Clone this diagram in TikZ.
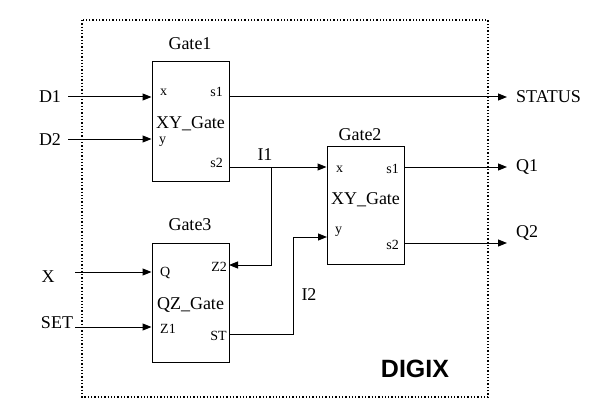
\documentclass[tikz,border=0pt]{standalone}
\usepackage{fontspec}
\setmainfont{Liberation Serif}
\newfontfamily\chipfont{Liberation Sans}
\usepackage{tikz}
\usetikzlibrary{arrows.meta}
\tikzset{gate/.style={draw,line width=1pt,minimum width=77pt,minimum height=119pt,inner sep=0pt},
    gatename/.style={font=\fontsize{18}{18}\selectfont,inner sep=0pt},
    port/.style={font=\fontsize{14}{14}\selectfont,inner sep=0pt},
    signame/.style={font=\fontsize{18}{18}\selectfont,inner sep=0pt},
    chipname/.style={font=\chipfont\bfseries\fontsize{25}{25}\selectfont,inner sep=0pt},
    wire/.style={draw,line width=1pt},
    sig/.style={wire,-{Triangle[length=9pt,width=7pt]}},
    frame/.style={draw,line width=1.3pt,dotted}}

\begin{document}
\begin{tikzpicture}[x=1pt,y=-1pt]
    \useasboundingbox (0,0) rectangle (603,420);
    % outer block
    \draw[frame] (82,20) rectangle (488,397);
    \node[chipname] (digix) at (415,369) {DIGIX};
    % the three gates
    \node[gate] (g1) at (190.5,121.5) {};
    \node[gate,minimum height=118pt] (g2) at (365.5,205) {};
    \node[gate] (g3) at (190.5,302.5) {};
    \node[gatename] (g1name) at (190,44) {Gate1};
    \node[gatename] (g2name) at (360,135) {Gate2};
    \node[gatename] (g3name) at (190,225) {Gate3};
    \node[gatename] (g1type) at (190.5,124) {XY\_Gate};
    \node[gatename] (g2type) at (365.5,200) {XY\_Gate};
    \node[gatename] (g3type) at (190.5,305) {QZ\_Gate};
    % ports
    \node[port,anchor=west] (g1x) at (160,92) {x};
    \node[port,anchor=east] (g1s1) at (223,92) {s1};
    \node[port,anchor=west] (g1y) at (159,142) {y};
    \node[port,anchor=east] (g1s2) at (223,163) {s2};
    \node[port,anchor=west] (g2x) at (336,169) {x};
    \node[port,anchor=east] (g2s1) at (399,169) {s1};
    \node[port,anchor=west] (g2y) at (335,232) {y};
    \node[port,anchor=east] (g2s2) at (399,245) {s2};
    \node[port,anchor=west] (g3q) at (160,273) {Q};
    \node[port,anchor=east] (g3z2) at (227,267) {Z2};
    \node[port,anchor=west] (g3z1) at (160,329) {Z1};
    \node[port,anchor=east] (g3st) at (227,336) {ST};
    % signal names
    \node[signame] (d1) at (50,97) {D1};
    \node[signame] (d2) at (50,140) {D2};
    \node[signame] (x) at (48,277) {X};
    \node[signame] (set) at (57,323) {SET};
    \node[signame,anchor=west] (status) at (516,97) {STATUS};
    \node[signame,anchor=west] (q1) at (516,167) {Q1};
    \node[signame,anchor=west] (q2) at (516,233) {Q2};
    \node[signame] (i1name) at (265,155) {I1};
    \node[signame] (i2name) at (309,295) {I2};
    % wire ends
    \coordinate (d1in) at (68,97);
    \coordinate (d2in) at (68,139);
    \coordinate (xin) at (75,272);
    \coordinate (setin) at (75,327);
    \coordinate (statusout) at (507,97);
    \coordinate (q1out) at (507,167);
    \coordinate (q2out) at (507,243);
    \coordinate (i1) at (271,167);
    \coordinate (z2) at (229,265);
    \coordinate (st) at (229,334);
    \coordinate (i2) at (293,334);
    \coordinate (g2yin) at (327,237);
    % wires
    \draw[sig] (d1in) -- (d1in -| g1.west);
    \draw[sig] (d2in) -- (d2in -| g1.west);
    \draw[sig] (xin) -- (xin -| g3.west);
    \draw[sig] (setin) -- (setin -| g3.west);
    \draw[sig] (statusout -| g1.east) -- (statusout);
    \draw[sig] (i1 -| g1.east) -- (i1 -| g2.west);
    \draw[sig] (i1) |- (z2);
    \draw[sig] (st) -- (i2) |- (g2yin);
    \draw[sig] (q1out -| g2.east) -- (q1out);
    \draw[sig] (q2out -| g2.east) -- (q2out);
\end{tikzpicture}
\end{document}
